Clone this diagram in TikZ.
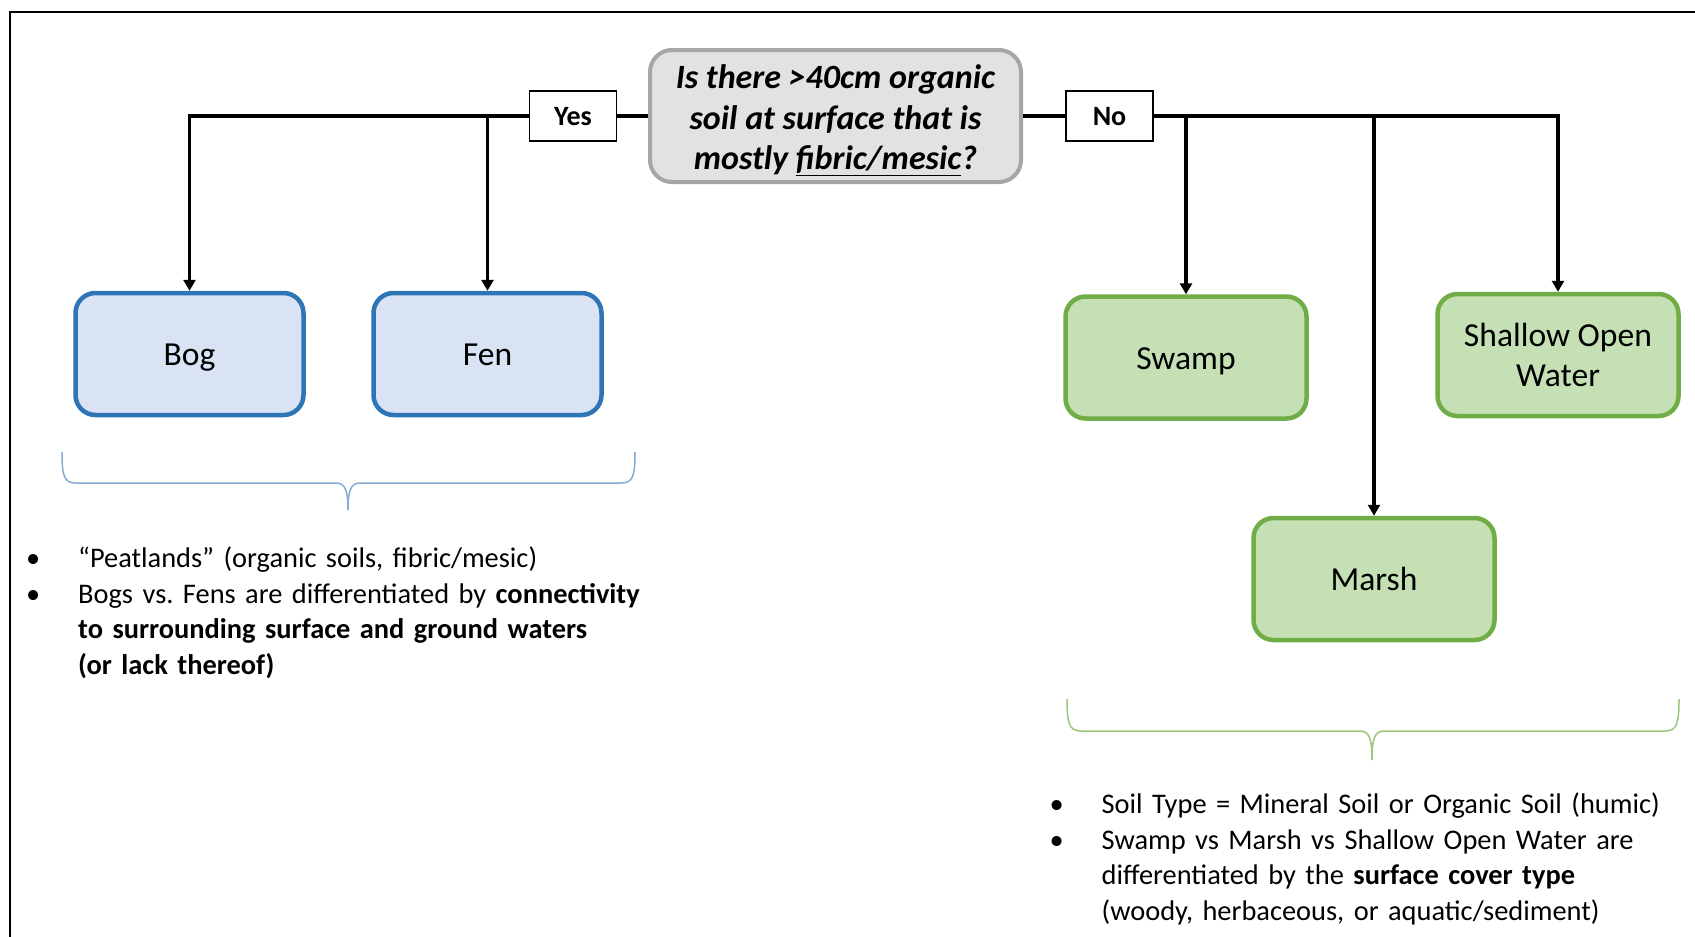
\documentclass[tikz,border=0pt]{standalone}
\usepackage{fontspec}
\setmainfont{Carlito}
\usetikzlibrary{arrows.meta}
\frenchspacing

\definecolor{bogline}{HTML}{2E75B6}
\definecolor{bogfill}{HTML}{DAE3F3}
\definecolor{marshline}{HTML}{70AD47}
\definecolor{marshfill}{HTML}{C5E0B4}
\definecolor{askline}{HTML}{A6A6A6}
\definecolor{askfill}{HTML}{E2E2E2}

\newcommand{\notebullet}[1]{\noindent\makebox[52pt][l]{\strut\textbullet}\parbox[t]{588pt}{#1}\par}

\tikzset{
    question/.style={draw=askline, fill=askfill, line width=4pt, rounded corners=22pt,
        minimum width=371pt, minimum height=132pt, align=center,
        font=\fontsize{34}{40.5}\selectfont\bfseries\itshape},
    answer/.style={draw, line width=1.5pt, fill=white, minimum width=87pt, minimum height=50pt,
        inner sep=0pt, text height=24pt, text depth=4.6pt, font=\fontsize{28}{34}\selectfont\bfseries},
    peatland/.style={draw=bogline, fill=bogfill, line width=4.5pt, rounded corners=20pt,
        minimum width=228pt, minimum height=122pt, align=center,
        text height=28pt, text depth=4.4pt, font=\fontsize{33.6}{40}\selectfont},
    mineral/.style={peatland, draw=marshline, fill=marshfill, minimum width=241pt},
    link/.style={line width=3.6pt},
    drop/.style={link, -{Triangle[length=11pt, width=12pt]}},
    notes/.style={anchor=north west, inner sep=0pt, text width=640pt,
        font=\fontsize{28.4}{35.6}\selectfont},
    bracket/.style={line width=1.5pt},
}

\begin{document}
\begin{tikzpicture}[x=1pt, y=-1pt]
            %\draw[lightgray, step=100] (0, 0) grid (1695, 937);
            \useasboundingbox (0, 0) rectangle (1695, 937);
            \draw[line width=2pt] (10, 940) -- (10, 12) -- (1700, 12);
            \node[question] (question) at (835.5, 116) {\rule{0pt}{32pt}Is there >40cm organic\\soil at surface that is\\mostly \underline{fibric/mesic}?};
            \node[answer] (yes-box) at (573, 116) {Yes};
            \node[answer] (no-box) at (1109.5, 116) {No};
            \node[peatland] (bog) at (189.5, 354) {Bog};
            \node[peatland] (fen) at (487.5, 354) {Fen};
            \node[mineral] (swamp) at (1186, 357.5) {Swamp};
            \node[mineral, text height=, text depth=] (open-water) at (1558, 355) {Shallow Open\\Water};
            \node[mineral] (marsh) at (1374, 579) {Marsh};
            \draw[link] (question) -- (yes-box);
            \draw[link] (question) -- (no-box);
            \draw[drop] (yes-box) -| (bog);
            \draw[drop] (yes-box -| fen) -- (fen);
            \draw[drop] (no-box) -| (open-water);
            \draw[drop] (no-box -| swamp) -- (swamp);
            \draw[drop] (no-box -| marsh) -- (marsh);
            % braces under the two groups
            \draw[bracket, draw=bogline!60] (62, 452) .. controls (62, 476) and (64, 483) .. (76, 483) -- (336, 483) .. controls (345, 483) and (348, 490) .. (348, 510);
            \draw[bracket, draw=bogline!60] (635, 452) .. controls (635, 476) and (633, 483) .. (621, 483) -- (360, 483) .. controls (351, 483) and (348, 490) .. (348, 510);
            \draw[bracket, draw=marshline!70] (1067, 699) .. controls (1067, 723) and (1069, 731) .. (1081, 731) -- (1360, 731) .. controls (1369, 731) and (1372, 738) .. (1372, 760);
            \draw[bracket, draw=marshline!70] (1679, 699) .. controls (1679, 723) and (1677, 731) .. (1665, 731) -- (1384, 731) .. controls (1375, 731) and (1372, 738) .. (1372, 760);
            \node[notes] (peat-notes) at (26, 542.5) {\notebullet{“Peatlands” (organic soils, fibric/mesic)}
                \notebullet{Bogs vs. Fens are differentiated by \textbf{connectivity}\\\textbf{to surrounding surface and ground waters}\\\textbf{(or lack thereof)}}};
            \node[notes] (mineral-notes) at (1049.5, 788.4) {\notebullet{Soil Type = Mineral Soil or Organic Soil (humic)}
                \notebullet{Swamp vs Marsh vs Shallow Open Water are\\differentiated by the \textbf{surface cover type}\\(woody, herbaceous, or aquatic/sediment)}};
        \end{tikzpicture}
\end{document}
